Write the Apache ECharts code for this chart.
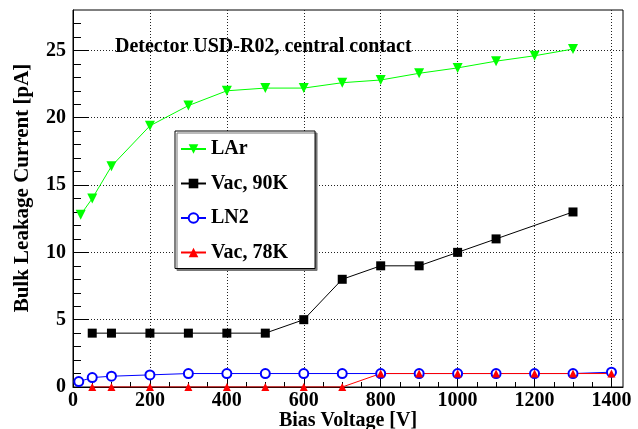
<!DOCTYPE html>
<html>
<head>
<meta charset="utf-8">
<script src="https://cdn.jsdelivr.net/npm/echarts@6/dist/echarts.min.js"></script>
<style>html,body{margin:0;padding:0;background:#fff}#c{width:638px;height:429px}</style>
</head>
<body>
<div id="c"></div>
<script>
// ---- data ----
const larX   = [20, 50, 100, 200, 300, 400, 500, 600, 700, 800, 900, 1000, 1100, 1200, 1300];
const larY   = [12.8, 14.0, 16.4, 19.4, 20.9, 22.0, 22.2, 22.2, 22.6, 22.8, 23.3, 23.7, 24.2, 24.6, 25.1];
const vac90X = [50, 100, 200, 300, 400, 500, 600, 700, 800, 900, 1000, 1100, 1300];
const vac90Y = [4, 4, 4, 4, 4, 4, 5, 8, 9, 9, 10, 11, 13];
const ln2X   = [15, 50, 100, 200, 300, 400, 500, 600, 700, 800, 900, 1000, 1100, 1200, 1300, 1400];
const ln2Y   = [0.4, 0.7, 0.8, 0.9, 1, 1, 1, 1, 1, 1, 1, 1, 1, 1, 1, 1.1];
const vac78X = [50, 100, 200, 300, 400, 500, 600, 700, 800, 900, 1000, 1100, 1200, 1300, 1400];
const vac78Y = [0, 0, 0, 0, 0, 0, 0, 0, 1, 1, 1, 1, 1, 1, 1];
const xTicks = [0, 200, 400, 600, 800, 1000, 1200, 1400];
const yTicks = [0, 5, 10, 15, 20, 25];
const xMinor = [];
for (let v = 50; v < 1430; v += 50) if (v % 200 !== 0) xMinor.push(v);
const yMinor = [];
for (let v = 1; v < 28; v += 1) if (v % 5 !== 0) yMinor.push(v);

const pairs = (xs, ys) => xs.map((x, i) => [x, ys[i]]);
const FONT = '"Liberation Serif", "Times New Roman", serif';

const chart = echarts.init(document.getElementById('c'));
const gridLine = { show: true, lineStyle: { color: '#222', type: [1, 2], width: 1 } };

chart.setOption({
  animation: false,
  backgroundColor: '#fff',
  title: {
    text: 'Detector USD-R02, central contact',
    left: 110, top: 32,
    textStyle: { fontFamily: FONT, fontWeight: 'bold', fontSize: 20, color: '#000' }
  },
  grid: { left: 73, right: 15, top: 10, bottom: 42, containLabel: false, outerBoundsMode: 'none',
          show: true, borderColor: '#000', borderWidth: 1, backgroundColor: 'transparent' },
  legend: {
    orient: 'vertical', left: 175, top: 131,
    padding: [8, 27, 6, 5],
    itemGap: 14.5, itemWidth: 25, itemHeight: 12,
    backgroundColor: '#fff', borderColor: '#000', borderWidth: 1,
    shadowColor: '#777', shadowOffsetX: 2, shadowOffsetY: 2, shadowBlur: 0,
    textStyle: { fontFamily: FONT, fontWeight: 'bold', fontSize: 20, color: '#000', lineHeight: 20 },
    data: ['LAr', 'Vac, 90K', 'LN2', 'Vac, 78K']
  },
  xAxis: [{
    type: 'value', min: 0, max: 1430,
    axisLine: { show: true, lineStyle: { color: '#000', width: 1 } },
    axisTick: { show: true, inside: true, length: 11, customValues: xTicks, lineStyle: { color: '#000' } },
    axisLabel: { customValues: xTicks, margin: 4, formatter: v => String(v), fontFamily: FONT, fontWeight: 'bold', fontSize: 20, color: '#000' },
    splitLine: gridLine,
    name: 'Bias Voltage [V]', nameLocation: 'middle', nameGap: 24, nameMoveOverlap: false,
    nameTextStyle: { fontFamily: FONT, fontWeight: 'bold', fontSize: 20, color: '#000' }
  }, {
    type: 'value', min: 0, max: 1430, position: 'bottom',
    axisLine: { show: false },
    axisTick: { show: true, inside: true, length: 5, customValues: xMinor, lineStyle: { color: '#000' } },
    axisLabel: { show: false },
    splitLine: { show: false }
  }],
  yAxis: [{
    type: 'value', min: 0, max: 28,
    axisLine: { show: true, lineStyle: { color: '#000', width: 1 } },
    axisTick: { show: true, inside: true, length: 16, customValues: yTicks, lineStyle: { color: '#000' } },
    axisLabel: { customValues: yTicks, margin: 7, formatter: v => String(v), fontFamily: FONT, fontWeight: 'bold', fontSize: 20, color: '#000' },
    splitLine: gridLine
  }, {
    type: 'value', min: 0, max: 28, position: 'left',
    axisLine: { show: false },
    axisTick: { show: true, inside: true, length: 8, customValues: yMinor, lineStyle: { color: '#000' } },
    axisLabel: { show: false },
    splitLine: { show: false }
  }],
  graphic: [{
    type: 'text', x: 23, y: 188, rotation: Math.PI / 2,
    style: { text: 'Bulk Leakage Current [pA]', font: 'bold 21px ' + FONT, fill: '#000', align: 'center', verticalAlign: 'middle' }
  }],
  series: [{
    name: 'LAr', type: 'line', data: pairs(larX, larY),
    symbol: 'triangle', symbolRotate: 180, symbolSize: 10,
    lineStyle: { color: '#00ff00', width: 1 }, itemStyle: { color: '#00ff00' }
  }, {
    name: 'Vac, 90K', type: 'line', data: pairs(vac90X, vac90Y),
    symbol: 'rect', symbolSize: 9,
    lineStyle: { color: '#000', width: 1 }, itemStyle: { color: '#000' }
  }, {
    name: 'LN2', type: 'line', data: pairs(ln2X, ln2Y),
    symbol: 'emptyCircle', symbolSize: 9,
    lineStyle: { color: '#0000ff', width: 1 }, itemStyle: { color: '#0000ff', borderColor: '#0000ff', borderWidth: 1 }
  }, {
    name: 'Vac, 78K', type: 'line', data: pairs(vac78X, vac78Y),
    symbol: 'triangle', symbolSize: 8,
    lineStyle: { color: '#ff0000', width: 1 }, itemStyle: { color: '#ff0000' }
  }]
});
</script>
</body>
</html>
